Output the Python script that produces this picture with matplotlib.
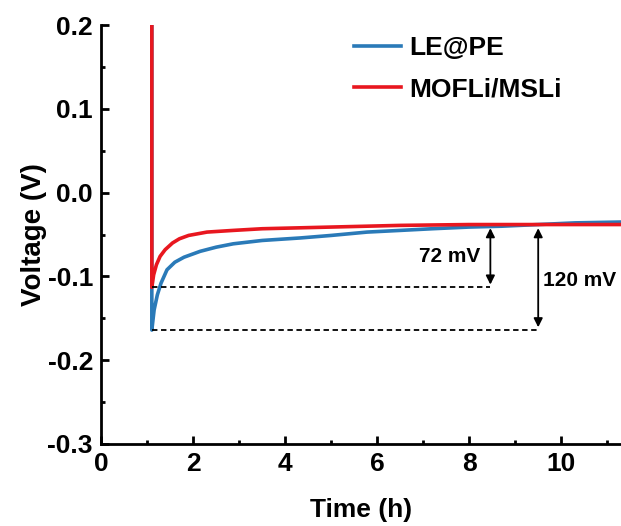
import numpy as np
import matplotlib.pyplot as plt
from matplotlib.ticker import MultipleLocator

# LE@PE trace (time h, voltage V)
t_le = [1.10, 1.10, 1.10, 1.15, 1.22, 1.30, 1.43, 1.60, 1.80, 2.15, 2.50, 2.87, 3.50,
        4.33, 5.00, 5.78, 6.50, 7.20, 8.00, 8.70, 9.50, 10.30, 11.30]
v_le = [0.200, -0.113, -0.164, -0.140, -0.122, -0.108, -0.092, -0.083, -0.077, -0.070,
        -0.065, -0.061, -0.057, -0.054, -0.051, -0.047, -0.045, -0.043, -0.041, -0.040,
        -0.038, -0.036, -0.035]

# MOFLi/MSLi trace
t_mo = [1.10, 1.10, 1.14, 1.20, 1.28, 1.39, 1.55, 1.70, 1.90, 2.30, 2.87, 3.50,
        5.00, 6.50, 8.00, 9.50, 11.30]
v_mo = [0.200, -0.113, -0.098, -0.086, -0.076, -0.068, -0.060, -0.055, -0.051, -0.047,
        -0.045, -0.043, -0.041, -0.039, -0.038, -0.038, -0.038]

blue = "#2a7ab8"
red = "#e8171f"

plt.rcParams["font.family"] = ["Liberation Sans", "DejaVu Sans"]
plt.rcParams["font.weight"] = "bold"

fig = plt.figure(figsize=(6.21, 5.26), dpi=100)
ax = fig.add_axes([0.163, 0.156, 0.837, 0.796])

ax.plot(t_le, v_le, color=blue, lw=2.6, label="LE@PE")
ax.plot(t_mo, v_mo, color=red, lw=2.6, label="MOFLi/MSLi")

# dashed reference lines and double arrows
ax.plot([1.1, 8.46], [-0.113, -0.113], "k--", lw=1.3, dashes=(3, 2))
ax.plot([1.1, 9.5], [-0.164, -0.164], "k--", lw=1.3, dashes=(3, 2))
ax.annotate("", xy=(8.46, -0.039), xytext=(8.46, -0.113),
            arrowprops=dict(arrowstyle="<|-|>", color="k", lw=1.3, mutation_scale=13))
ax.annotate("", xy=(9.5, -0.039), xytext=(9.5, -0.164),
            arrowprops=dict(arrowstyle="<|-|>", color="k", lw=1.3, mutation_scale=13))
ax.text(8.25, -0.076, "72 mV", ha="right", va="center", fontsize=15, fontweight="bold")
ax.text(9.6, -0.105, "120 mV", ha="left", va="center", fontsize=15, fontweight="bold")

ax.set_xlim(0, 11.3)
ax.set_ylim(-0.3, 0.2)
ax.xaxis.set_major_locator(MultipleLocator(2))
ax.xaxis.set_minor_locator(MultipleLocator(1))
ax.yaxis.set_major_locator(MultipleLocator(0.1))
ax.yaxis.set_minor_locator(MultipleLocator(0.05))
ax.yaxis.set_major_formatter(plt.FuncFormatter(lambda v, p: f"{v:.1f}"))

ax.spines["top"].set_visible(False)
ax.spines["right"].set_visible(False)
for s in ("left", "bottom"):
    ax.spines[s].set_linewidth(2)
ax.tick_params(which="major", direction="in", length=6, width=2, labelsize=19, pad=6)
ax.tick_params(which="minor", direction="in", length=3, width=2)

ax.set_xlabel("Time (h)", fontsize=19, fontweight="bold", labelpad=16)
ax.set_ylabel("Voltage (V)", fontsize=20, fontweight="bold", labelpad=0)

ax.legend(loc="upper left", bbox_to_anchor=(0.44, 1.03), frameon=False, fontsize=19,
          handlelength=1.8, handletextpad=0.3, labelspacing=0.65)

fig.savefig("out.png", dpi=100)
